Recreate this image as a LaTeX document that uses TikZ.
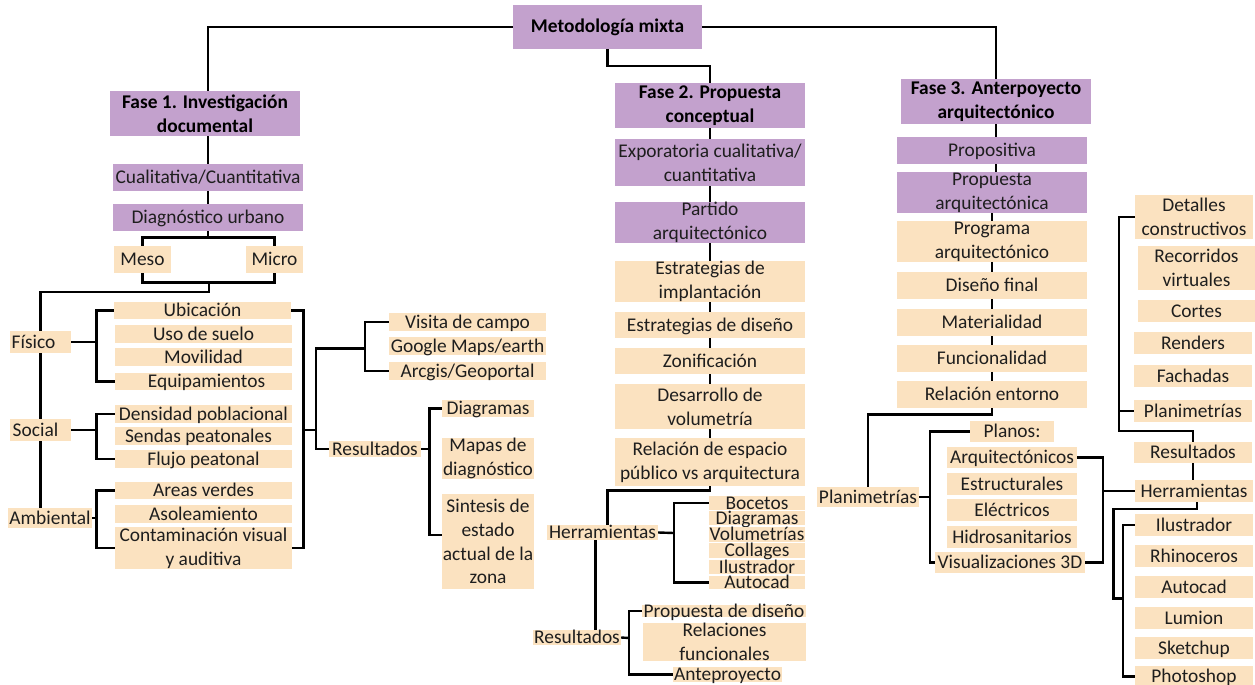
\documentclass[tikz,border=0pt]{standalone}
\usepackage{fontspec}
\setmainfont{Carlito}
\usetikzlibrary{backgrounds}
\definecolor{pur}{RGB}{195,161,205}
\definecolor{tanf}{RGB}{251,226,192}
\definecolor{ink}{RGB}{30,30,30}
\tikzset{
  pb/.style={fill=pur, inner sep=0pt, draw=none},
  tb/.style={fill=tanf, inner sep=0pt, draw=none},
  lbl/.style={font=\fontsize{19.4}{23.7}\selectfont, text=ink, align=center, inner sep=0pt},
  bf/.style={font=\fontsize{19.4}{23.7}\selectfont\bfseries, text=black},
  one/.style={text height=12pt, text depth=0pt},
  m/.style={},
  ln/.style={line width=2.4pt, draw=black}
}
% [label opts]{name}{style}{x1}{y1}{x2}{y2}{text}
\newcommand\mkbox[8][one]{%
  \node[#3, minimum width={(#6)-(#4)}, minimum height={(#7)-(#5)},
        label={[lbl,#1]center:{#8}}] (#2) at ({((#4)+(#6))/2},{((#5)+(#7))/2}) {};}
\begin{document}
\begin{tikzpicture}[x=1pt,y=-1pt]
\useasboundingbox (0,0) rectangle (1255,685);
% purple boxes
\mkbox[bf,one]{met}{pb}{513}{5}{702}{49}{Metodología mixta}
\mkbox[bf]{fone}{pb}{110}{91}{300}{136}{Fase 1. Investigación\\documental}
\mkbox{cual}{pb}{113}{164}{303}{191}{Cualitativa/Cuantitativa}
\mkbox{diag}{pb}{113}{204}{303}{231}{Diagnóstico urbano}
\mkbox[bf]{ftwo}{pb}{615}{83}{805}{128}{Fase 2. Propuesta\\conceptual}
\mkbox[m]{expo}{pb}{615}{139}{805}{186}{Exporatoria cualitativa/\\cuantitativa}
\mkbox[m]{part}{pb}{615}{202}{805}{243}{Partido\\arquitectónico}
\mkbox[bf]{fthree}{pb}{901}{79}{1091}{124}{Fase 3. Anterpoyecto\\arquitectónico}
\mkbox{prop}{pb}{897}{137}{1087}{164}{Propositiva}
\mkbox[m]{parq}{pb}{897}{172}{1087}{213}{Propuesta\\arquitectónica}
% left column
\mkbox{meso}{tb}{114}{246}{171}{273}{Meso}
\mkbox{micro}{tb}{246}{246}{303}{273}{Micro}
\mkbox[one,xshift=-7pt]{fis}{tb}{10}{331}{71}{353}{Físico}
\mkbox[one,xshift=-5pt]{soc}{tb}{10}{419}{71}{441}{Social}
\mkbox{amb}{tb}{8}{508}{92}{528}{Ambiental}
\mkbox{ubi}{tb}{114}{302}{291}{319}{Ubicación}
\mkbox{uso}{tb}{115}{325}{292}{343}{Uso de suelo}
\mkbox{mov}{tb}{115}{348}{292}{366}{Movilidad}
\mkbox[one,xshift=3pt]{equ}{tb}{115}{373}{292}{390}{Equipamientos}
\mkbox{den}{tb}{115}{405}{292}{423}{Densidad poblacional}
\mkbox[one,xshift=-5pt]{sen}{tb}{115}{427}{292}{445}{Sendas peatonales}
\mkbox{flu}{tb}{115}{450}{292}{468}{Flujo peatonal}
\mkbox{are}{tb}{115}{482}{292}{499}{Areas verdes}
\mkbox{aso}{tb}{115}{505}{292}{523}{Asoleamiento}
\mkbox[m]{con}{tb}{115}{527}{292}{569}{Contaminación visual\\y auditiva}
\mkbox{vis}{tb}{389}{313}{546}{331}{Visita de campo}
\mkbox{goo}{tb}{389}{337}{546}{355}{Google Maps/earth}
\mkbox{arc}{tb}{389}{362}{546}{380}{Arcgis/Geoportal}
\mkbox{resa}{tb}{329}{441}{421}{457}{Resultados}
\mkbox{dgr}{tb}{442}{400}{534}{417}{Diagramas}
\mkbox[m]{map}{tb}{442}{438}{534}{479}{Mapas de\\diagnóstico}
\mkbox[m]{sin}{tb}{442}{494}{534}{589}{Sintesis de\\estado\\actual de la\\zona}
% middle column
\mkbox[m]{ei}{tb}{615}{261}{805}{302}{Estrategias de\\implantación}
\mkbox{ed}{tb}{615}{312}{805}{338}{Estrategias de diseño}
\mkbox{zon}{tb}{615}{348}{805}{374}{Zonificación}
\mkbox[m]{dv}{tb}{615}{384}{805}{429}{Desarrollo de\\volumetría}
\mkbox[m]{rel}{tb}{615}{438}{805}{486}{Relación de espacio\\público vs arquitectura}
\mkbox{herb}{tb}{547}{525}{658}{540}{Herramientas}
\mkbox{boc}{tb}{709}{496}{805}{510}{Bocetos}
\mkbox{dgb}{tb}{709}{511}{805}{525}{Diagramas}
\mkbox{vol}{tb}{709}{527}{805}{542}{Volumetrías}
\mkbox{col}{tb}{709}{543}{805}{558}{Collages}
\mkbox{ilb}{tb}{709}{560}{805}{574}{Ilustrador}
\mkbox{aub}{tb}{709}{576}{805}{589}{Autocad}
\mkbox{resb}{tb}{533}{630}{621}{645}{Resultados}
\mkbox{pdd}{tb}{642}{605}{806}{617}{Propuesta de diseño}
\mkbox[m]{rfu}{tb}{643}{623}{806}{661}{Relaciones\\funcionales}
\mkbox{ant}{tb}{673}{667}{782}{682}{Anteproyecto}
% right column
\mkbox[m]{pro}{tb}{897}{221}{1087}{262}{Programa\\arquitectónico}
\mkbox{dfi}{tb}{897}{272}{1087}{299}{Diseño final}
\mkbox{mat}{tb}{897}{309}{1087}{336}{Materialidad}
\mkbox{fun}{tb}{897}{345}{1087}{372}{Funcionalidad}
\mkbox{ren}{tb}{897}{381}{1087}{408}{Relación entorno}
\mkbox{pla}{tb}{817}{487}{919}{507}{Planimetrías}
\mkbox{pln}{tb}{970}{421}{1054}{442}{Planos:}
\mkbox{aqt}{tb}{947}{447}{1077}{468}{Arquitectónicos}
\mkbox{est}{tb}{947}{473}{1077}{495}{Estructurales}
\mkbox{ele}{tb}{947}{499}{1077}{521}{Eléctricos}
\mkbox{hid}{tb}{947}{526}{1077}{548}{Hidrosanitarios}
\mkbox{vtd}{tb}{935}{552}{1085}{573}{Visualizaciones 3D}
\mkbox[m]{det}{tb}{1135}{195}{1253}{239}{Detalles\\constructivos}
\mkbox[m]{rec}{tb}{1138}{246}{1255}{290}{Recorridos\\virtuales}
\mkbox{cor}{tb}{1138}{300}{1255}{322}{Cortes}
\mkbox{rnd}{tb}{1134}{332}{1252}{354}{Renders}
\mkbox{fac}{tb}{1134}{365}{1252}{387}{Fachadas}
\mkbox{plb}{tb}{1134}{400}{1252}{422}{Planimetrías}
\mkbox{resc}{tb}{1134}{442}{1252}{463}{Resultados}
\mkbox{herc}{tb}{1135}{480}{1253}{502}{Herramientas}
\mkbox{ilc}{tb}{1135}{514}{1253}{536}{Ilustrador}
\mkbox{rhi}{tb}{1135}{545}{1253}{567}{Rhinoceros}
\mkbox{auc}{tb}{1135}{576}{1253}{598}{Autocad}
\mkbox{lum}{tb}{1135}{607}{1253}{629}{Lumion}
\mkbox{ske}{tb}{1135}{637}{1253}{659}{Sketchup}
\mkbox{pho}{tb}{1135}{666}{1253}{687}{Photoshop}
% connectors
\begin{scope}[on background layer]
\fill[white] (0,0) rectangle (1255,685);
\coordinate (mmA) at (207,237.3);
\coordinate (mmB) at (209,282.3);
\coordinate (lv) at (40.4,291.7);
\coordinate (fbx) at (96.4,0);
\coordinate (rbx) at (303.6,430);
\coordinate (tj) at (316,430);
\coordinate (tsp) at (365,348.3);
\coordinate (rsx) at (429.6,449);
\coordinate (hsx) at (674,533);
\coordinate (r2x) at (629,638);
\coordinate (plx) at (930,497);
\coordinate (aqx) at (1102.7,491);
\coordinate (ubx) at (1119,430.7);
\coordinate (lsx) at (1113.3,598.3);
\coordinate (lsy) at (1122.7,598.3);
% top
\draw[ln] (met.west) -| ([xshift=3pt]fone.north);
\draw[ln] (met.east) -| (fthree.north);
\draw[ln] (met.south) -- ++(0,17) -| (ftwo.north);
% phase 1
\draw[ln] (cual.north) -- (cual.north |- fone.south);
\draw[ln] (cual.south) -- (diag.north);
\draw[ln] (diag.south) -- (diag.south |- mmA);
\draw[ln] (meso.north) |- (mmA) -| (micro.north);
\draw[ln] (meso.south) |- (mmB) -| (micro.south);
\draw[ln] (mmB) |- (lv) -- (lv |- amb.north);
\draw[ln] (fis.east) -- (fis.east -| fbx);
\draw[ln] (ubi.west) -- (ubi.west -| fbx) -- (equ.west -| fbx) -- (equ.west);
\draw[ln] (soc.east) -- (soc.east -| fbx);
\draw[ln] (den.west) -- (den.west -| fbx) -- (flu.west -| fbx) -- (flu.west);
\draw[ln] (amb.east) -- (amb.east -| fbx);
\draw[ln] (are.west) -- (are.west -| fbx) -- (con.west -| fbx) -- (con.west);
\draw[ln] (ubi.east) -- (ubi.east -| rbx) -- (con.east -| rbx) -- (con.east);
\draw[ln] (rbx) -- (tj);
\draw[ln] (resa.west) -| (tj |- tsp) -- (tsp);
\draw[ln] (vis.west) -| (tsp) |- (arc.west);
\draw[ln] (resa.east) -- (rsx);
\draw[ln] (dgr.west) -| (rsx) |- ([yshift=6.5pt]sin.west);
% phase 2
\draw[ln] (ftwo.south) -- (rel.north);
\draw[ln] (rel.south) -- ++(0,4.3) -| ([xshift=5pt]herb.north);
\draw[ln] (herb.east) -- (hsx);
\draw[ln] (boc.west) -| (hsx) |- (aub.west);
\draw[ln] ([xshift=-7pt]herb.south) -- ([xshift=-7pt]herb.south |- resb.north);
\draw[ln] (resb.east) -- (r2x);
\draw[ln] (pdd.west) -| (r2x) |- (ant.west);
% phase 3
\draw[ln] (fthree.south) -- (fthree.south |- parq.north);
\draw[ln] (parq.south) -- (ren.north);
\draw[ln] (ren.south) -- ++(0,6.3) -| (pla.north);
\draw[ln] (pla.east) -- (plx);
\draw[ln] (pln.west) -| (plx) |- (vtd.west);
\draw[ln] (aqt.east) -| (aqx) |- (vtd.east);
\draw[ln] (aqx) -- (herc.west);
\draw[ln] (det.west) -| (ubx) -| (resc.north);
\draw[ln] (plb.west) -- (plb.west -| ubx);
\draw[ln] (resc.south) -- (resc.south |- herc.north);
\draw[ln] ([xshift=3pt]herc.south) -- ++(0,6.6) -| (lsx) -- (lsy);
\draw[ln] (ilc.west) -| (lsy) |- (pho.west);
\end{scope}
\end{tikzpicture}
\end{document}
